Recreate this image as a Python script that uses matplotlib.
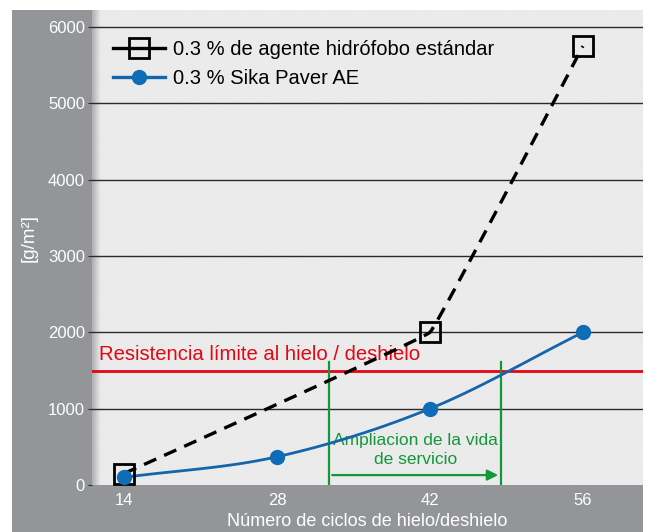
import numpy as np
import matplotlib.pyplot as plt
from matplotlib.patches import Rectangle

# data
ciclos = [14, 28, 42, 56]
estandar_x = [14, 42, 56]
estandar_y = [150, 2000, 5750]
sika_y = [100, 370, 1000, 2000]
limite = 1500
vida_ini, vida_fin = 32.8, 48.5
yticks = [0, 1000, 2000, 3000, 4000, 5000, 6000]

plt.rcParams['font.family'] = ['Liberation Sans Narrow', 'Liberation Sans', 'DejaVu Sans']


def smooth(xs, ys, tension=0.0, n=40):
    # cardinal spline through the points, only used to draw the line
    xs = np.asarray(xs, float)
    ys = np.asarray(ys, float)
    px = np.concatenate([[2 * xs[0] - xs[1]], xs, [2 * xs[-1] - xs[-2]]])
    py = np.concatenate([[2 * ys[0] - ys[1]], ys, [2 * ys[-1] - ys[-2]]])
    out_x, out_y = [], []
    t = np.linspace(0, 1, n)
    for i in range(1, len(px) - 2):
        mx0 = (1 - tension) * (px[i + 1] - px[i - 1]) / 2
        mx1 = (1 - tension) * (px[i + 2] - px[i]) / 2
        my0 = (1 - tension) * (py[i + 1] - py[i - 1]) / 2
        my1 = (1 - tension) * (py[i + 2] - py[i]) / 2
        h00 = 2 * t**3 - 3 * t**2 + 1
        h10 = t**3 - 2 * t**2 + t
        h01 = -2 * t**3 + 3 * t**2
        h11 = t**3 - t**2
        out_x.append(h00 * px[i] + h10 * mx0 + h01 * px[i + 1] + h11 * mx1)
        out_y.append(h00 * py[i] + h10 * my0 + h01 * py[i + 1] + h11 * my1)
    return np.concatenate(out_x), np.concatenate(out_y)


fig = plt.figure(figsize=(6.48, 5.32), dpi=100)
fig.patch.set_facecolor('white')
# gray frame behind the plot
fig.patches.append(Rectangle((12 / 648, 0), 631 / 648, 522 / 532, transform=fig.transFigure,
                             facecolor='#939598', edgecolor='none', zorder=-10))

ax = fig.add_axes([92 / 648, 47 / 532, 551 / 648, 475 / 532])
ax.set_zorder(1)
ax.set_xlim(11.07, 61.5)
ax.set_ylim(0, 6223)

# light paving-stone like background with a soft shadow at the left edge
grad = np.ones((2, 300)) * 0.92
grad[:, :5] = np.linspace(0.7, 0.91, 5)
ax.imshow(grad, extent=[11.07, 61.5, 0, 6223], aspect='auto', cmap='gray',
          vmin=0, vmax=1, zorder=0)

for v in yticks[1:]:
    ax.axhline(v, color='#2b2b2b', lw=1, zorder=1)

ax.axhline(limite, color='#e30613', lw=2, zorder=2)
ax.text(11.7, limite + 90, 'Resistencia límite al hielo / deshielo', color='#e30613',
        fontsize=14.6, va='bottom', ha='left', zorder=3)

green = '#13973a'
ax.plot([vida_ini, vida_ini], [0, 1610], color=green, lw=1.6, zorder=2)
ax.plot([vida_fin, vida_fin], [0, 1610], color=green, lw=1.6, zorder=2)
ax.annotate('', xy=(vida_fin, 130), xytext=(vida_ini, 130),
            arrowprops=dict(arrowstyle='-|>', color=green, lw=1.6, mutation_scale=16), zorder=2)
ax.text((vida_ini + vida_fin) / 2, 455, 'Ampliacion de la vida\nde servicio', color=green,
        fontsize=12.5, ha='center', va='center', linespacing=1.3, zorder=3)

sx, sy = smooth(estandar_x, estandar_y, tension=0.9)
ax.plot(sx, sy, color='black', lw=2.4, dashes=(4, 2.6), zorder=4)
ax.plot(estandar_x, estandar_y, ls='none', marker='s', ms=15, mfc='none', mec='black',
        mew=2, zorder=5)

bx, by = smooth(ciclos, sika_y, tension=0.0)
ax.plot(bx, by, color='#1565ad', lw=2, zorder=4)
ax.plot(ciclos, sika_y, ls='none', marker='o', ms=10, color='#0f6db8', zorder=5)

# legend handles
h1, = ax.plot([], [], color='black', lw=2.4, marker='s', ms=15, mfc='none', mec='black', mew=2)
h2, = ax.plot([], [], color='#1565ad', lw=2.4, marker='o', ms=10, mfc='#0f6db8', mec='#0f6db8')
ax.legend([h1, h2], ['0.3 % de agente hidrófobo estándar', '0.3 % Sika Paver AE'],
          loc='upper left', bbox_to_anchor=(0.005, 0.975), frameon=False, fontsize=14.5,
          handlelength=2.6, handletextpad=0.4, labelspacing=0.5, borderaxespad=0.5)

ax.set_xticks(ciclos)
ax.set_yticks(yticks)
ax.tick_params(axis='x', length=0, colors='white', labelsize=12, pad=6)
ax.tick_params(axis='y', length=3, color='#2b2b2b', labelcolor='white', labelsize=12, pad=2)
for s in ax.spines.values():
    s.set_visible(False)

ax.set_xlabel('Número de ciclos de hielo/deshielo', color='white', fontsize=13, labelpad=3)
ax.set_ylabel('[g/m²]', color='white', fontsize=13.5)
ax.yaxis.set_label_coords(-0.098, 0.52)

fig.savefig('out.png', dpi=100)
